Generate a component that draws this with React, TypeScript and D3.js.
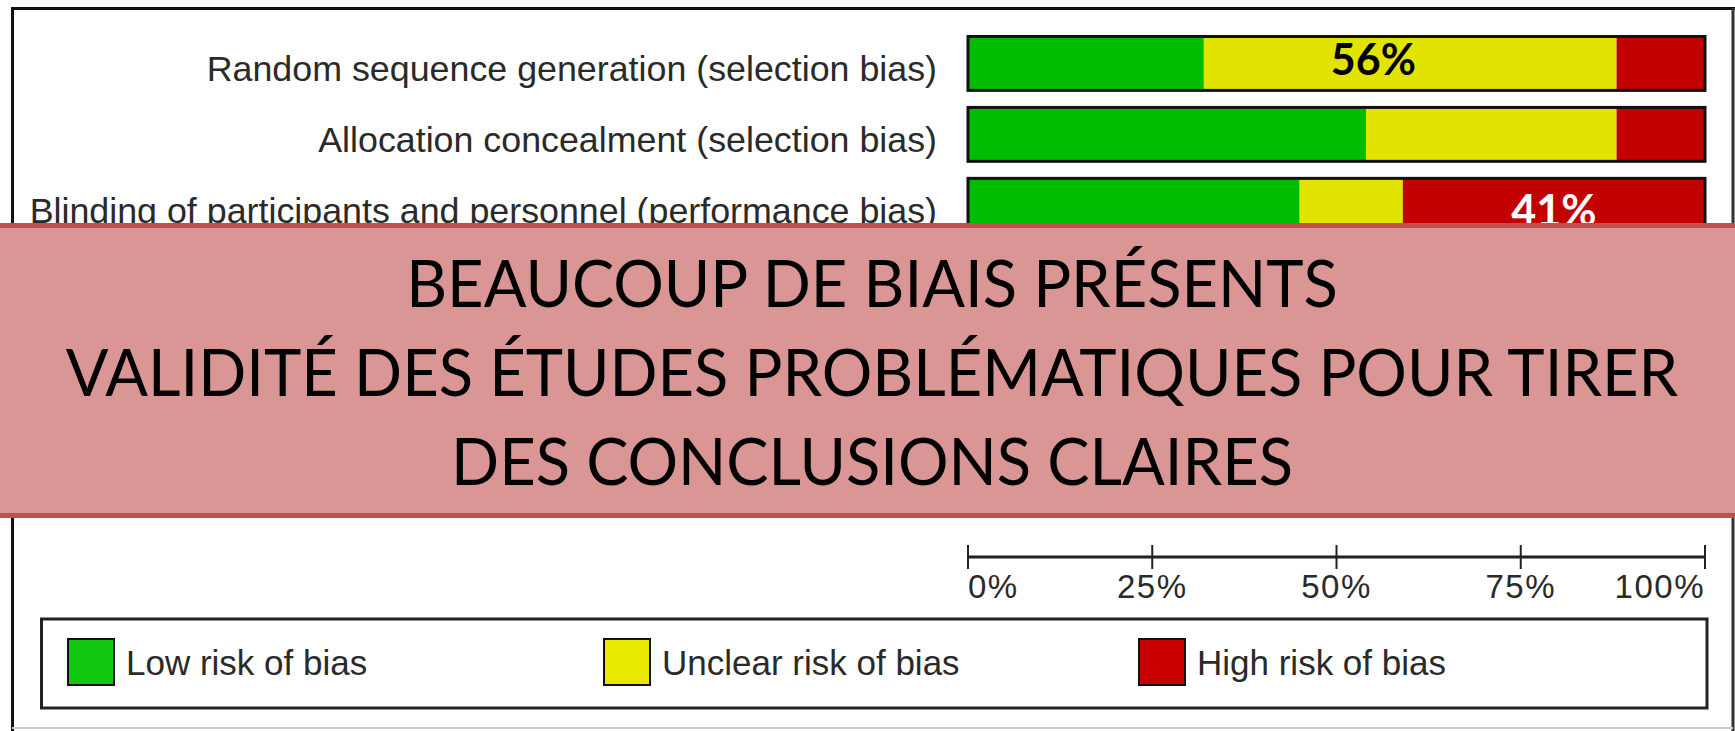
import React from "react";
import * as d3 from "d3";

const categories = [
  "Random sequence generation (selection bias)",
  "Allocation concealment (selection bias)",
  "Blinding of participants and personnel (performance bias)",
];
const lowRisk = [32, 54, 45];
const unclearRisk = [56, 34, 14];
const highRisk = [12, 12, 41];
const ROW_SLOTS = 7;

const tickValues = [0, 25, 50, 75, 100];
const tickLabels = ["0%", "25%", "50%", "75%", "100%"];

const legendLabels = ["Low risk of bias", "Unclear risk of bias", "High risk of bias"];

const annotationRows = [0, 2];
const annotationAt = [55, 79.5];
const annotationTexts = ["56%", "41%"];

const bannerLines = [
  "BEAUCOUP DE BIAIS PRÉSENTS",
  "VALIDITÉ DES ÉTUDES PROBLÉMATIQUES POUR TIRER",
  "DES CONCLUSIONS CLAIRES",
];

const W = 1735;
const H = 731;
const COLORS = ["#00bb00", "#e3e300", "#c20000"];
const LEGEND_COLORS = ["#10c810", "#e8e800", "#c80000"];
const ANNOT_COLORS = ["#000", "#fff"];
const ANNOT_DY = [38, 48];

export default function App() {
  const x = d3.scaleLinear().domain([0, 100]).range([968, 1705]);
  const y = d3
    .scaleBand<number>()
    .domain(d3.range(ROW_SLOTS))
    .range([36.5, 516])
    .paddingInner(0.24)
    .paddingOuter(0);

  const rows = categories.map((c, i) => {
    const vals = [lowRisk[i], unclearRisk[i], highRisk[i]];
    let acc = 0;
    const segs = vals.map((v, k) => {
      const s = { x0: acc, x1: acc + v, color: COLORS[k] };
      acc += v;
      return s;
    });
    return { c, i, segs };
  });

  const axisY = 557;
  const legendX = d3.scaleOrdinal<number, number>().domain([0, 1, 2]).range([68, 604, 1139]);

  const bandTop = 225.5;
  const bandH = 290;
  const lineY = d3.scaleLinear().domain([0, 2]).range([307, 485]);

  return (
    <svg
      width={W}
      height={H}
      style={{ position: "absolute", left: 0, top: 0, display: "block" }}
    >
      <rect x={0} y={0} width={W} height={H} fill="#fff" />
      {/* outer frame */}
      <path d={`M12.5,${H} V8.5 H${W}`} fill="none" stroke="#111" strokeWidth={3} />
      <line x1={1733} y1={8} x2={1733} y2={H} stroke="#333" strokeWidth={3} />
      <line x1={12} y1={728} x2={1733} y2={728} stroke="#ccc" strokeWidth={2} />

      {/* row labels */}
      {rows.map((r) => (
        <text
          key={"l" + r.i}
          x={937}
          y={(y(r.i) as number) + y.bandwidth() / 2 + 18}
          textAnchor="end"
          fontFamily="'Liberation Sans', Arial, sans-serif"
          fontSize={35.8}
          fill="#2a2a2a"
        >
          {r.c}
        </text>
      ))}

      {/* bars */}
      {rows.map((r) => (
        <g key={"b" + r.i}>
          {r.segs.map((s, k) => (
            <rect
              key={k}
              x={x(s.x0)}
              y={y(r.i) as number}
              width={x(s.x1) - x(s.x0)}
              height={y.bandwidth()}
              fill={s.color}
            />
          ))}
          <rect
            x={x(0)}
            y={y(r.i) as number}
            width={x(100) - x(0)}
            height={y.bandwidth()}
            fill="none"
            stroke="#111"
            strokeWidth={3}
          />
        </g>
      ))}

      {/* annotations */}
      {annotationTexts.map((t, i) => (
        <text
          key={"a" + i}
          x={x(annotationAt[i])}
          y={(y(annotationRows[i]) as number) + ANNOT_DY[i]}
          textAnchor="middle"
          fontFamily="Lato, 'Open Sans', sans-serif"
          fontWeight={700}
          fontSize={43}
          fill={ANNOT_COLORS[i]}
        >
          {t}
        </text>
      ))}

      {/* axis */}
      <line x1={x(0)} x2={x(100)} y1={axisY} y2={axisY} stroke="#222" strokeWidth={3} />
      {tickValues.map((t, i) => (
        <g key={"t" + i}>
          <line x1={x(t)} x2={x(t)} y1={axisY - 12} y2={axisY + 12} stroke="#222" strokeWidth={2} />
          <text
            x={x(t)}
            y={598}
            textAnchor={i === 0 ? "start" : i === tickValues.length - 1 ? "end" : "middle"}
            fontFamily="'Liberation Sans', Arial, sans-serif"
            fontSize={33}
            letterSpacing={1.5}
            fill="#2a2a2a"
          >
            {tickLabels[i]}
          </text>
        </g>
      ))}

      {/* legend */}
      <rect x={41.5} y={619} width={1665.5} height={89} fill="none" stroke="#222" strokeWidth={3} />
      {legendLabels.map((l, i) => (
        <g key={"lg" + i}>
          <rect
            x={legendX(i)}
            y={639}
            width={46}
            height={46}
            fill={LEGEND_COLORS[i]}
            stroke="#111"
            strokeWidth={2}
          />
          <text
            x={legendX(i) + 58}
            y={675}
            fontFamily="'Liberation Sans', Arial, sans-serif"
            fontSize={35}
            fill="#2a2a2a"
          >
            {l}
          </text>
        </g>
      ))}

      {/* banner overlay */}
      <rect
        x={-10}
        y={bandTop}
        width={W + 20}
        height={bandH}
        fill="#d99694"
        stroke="#c0504d"
        strokeWidth={5}
      />
      <g transform="translate(872,0) scale(0.973,1)">
        {bannerLines.map((t, i) => (
          <text
            key={"bn" + i}
            x={0}
            y={lineY(i)}
            textAnchor="middle"
            fontFamily="Lato, 'Open Sans', sans-serif"
            fontSize={65}
            fill="#000"
          >
            {t}
          </text>
        ))}
      </g>
    </svg>
  );
}
